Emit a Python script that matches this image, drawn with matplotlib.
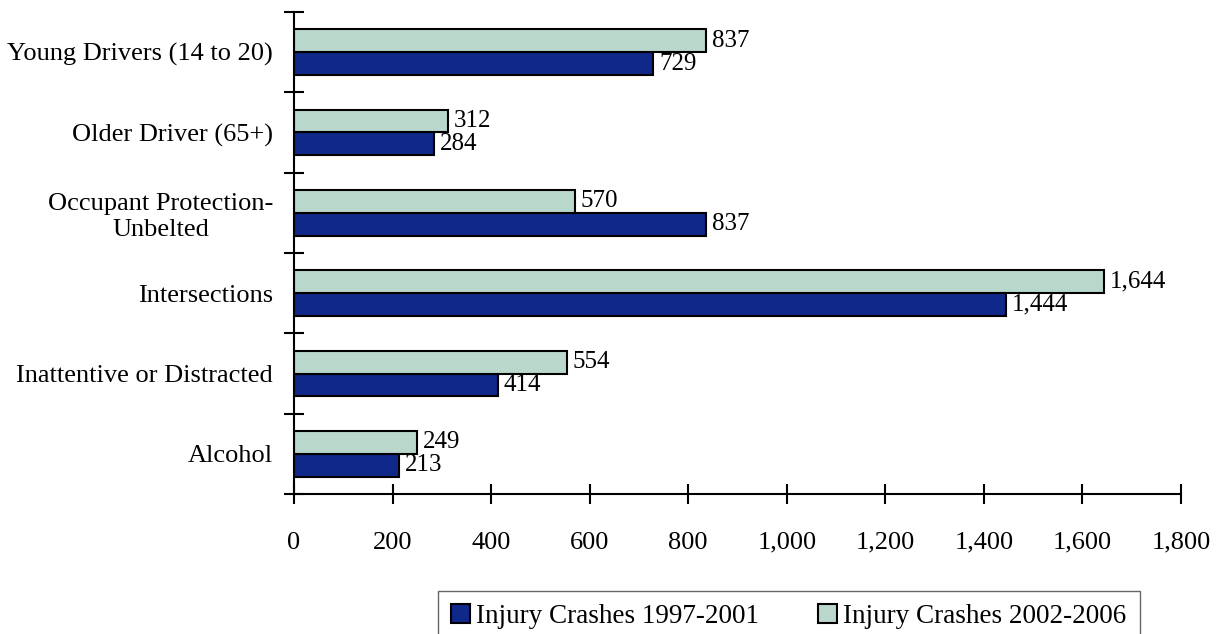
import matplotlib
matplotlib.use("Agg")
import matplotlib.pyplot as plt
from matplotlib.patches import Patch
import numpy as np

# categories from bottom to top
categories = ["Alcohol", "Inattentive or Distracted", "Intersections",
              "Occupant Protection-\nUnbelted", "Older Driver (65+)",
              "Young Drivers (14 to 20)"]
crashes_1997_2001 = [213, 414, 1444, 837, 284, 729]
crashes_2002_2006 = [249, 554, 1644, 570, 312, 837]
x_ticks = [0, 200, 400, 600, 800, 1000, 1200, 1400, 1600, 1800]

dark = "#10288a"
light = "#b9d7ca"

plt.rcParams['font.family'] = ['Liberation Serif', 'DejaVu Serif']

fig = plt.figure(figsize=(12.19, 6.34), dpi=100)
ax = fig.add_axes([0.2412, 0.2208, 0.7276, 0.7603])

y = np.arange(len(categories))
h = 0.286
ax.barh(y - h / 2, crashes_1997_2001, height=h, color=dark,
        edgecolor="black", linewidth=1.5)
ax.barh(y + h / 2, crashes_2002_2006, height=h, color=light,
        edgecolor="black", linewidth=1.5)

for yi, v in zip(y, crashes_1997_2001):
    ax.text(v + 12, yi - h / 2, f"{v:,}", va="center", ha="left", fontsize=18)
for yi, v in zip(y, crashes_2002_2006):
    ax.text(v + 12, yi + h / 2, f"{v:,}", va="center", ha="left", fontsize=18)

ax.set_xlim(0, 1800)
ax.set_ylim(-0.5, 5.5)
ax.set_xticks(x_ticks)
ax.set_xticklabels([f"{t:,}" for t in x_ticks], fontsize=19)
ax.set_yticks(np.arange(-0.5, 6, 1))
ax.set_yticklabels([])
ax.set_yticks(y, minor=True)
ax.set_yticklabels(categories, minor=True, fontsize=19, multialignment="center")
ax.tick_params(axis="y", which="minor", length=0, pad=15)
ax.tick_params(axis="y", which="major", direction="inout", length=14, width=1.5)
ax.tick_params(axis="x", direction="inout", length=14, width=1.5, pad=20)

for s in ["top", "right"]:
    ax.spines[s].set_visible(False)
for s in ["left", "bottom"]:
    ax.spines[s].set_linewidth(1.5)

handles = [Patch(facecolor=dark, edgecolor="black", linewidth=1.5),
           Patch(facecolor=light, edgecolor="black", linewidth=1.5)]
leg = fig.legend(handles, ["Injury Crashes 1997-2001", "Injury Crashes 2002-2006"],
                 loc="upper center", bbox_to_anchor=(0.647, 0.068), ncol=2,
                 fontsize=19.5, frameon=True, fancybox=False, edgecolor="#404040",
                 handlelength=0.7, handleheight=0.7, handletextpad=0.2,
                 columnspacing=2.2, borderpad=0.5, borderaxespad=0)
leg.get_frame().set_linewidth(1.0)

fig.savefig("out.png", dpi=100)
